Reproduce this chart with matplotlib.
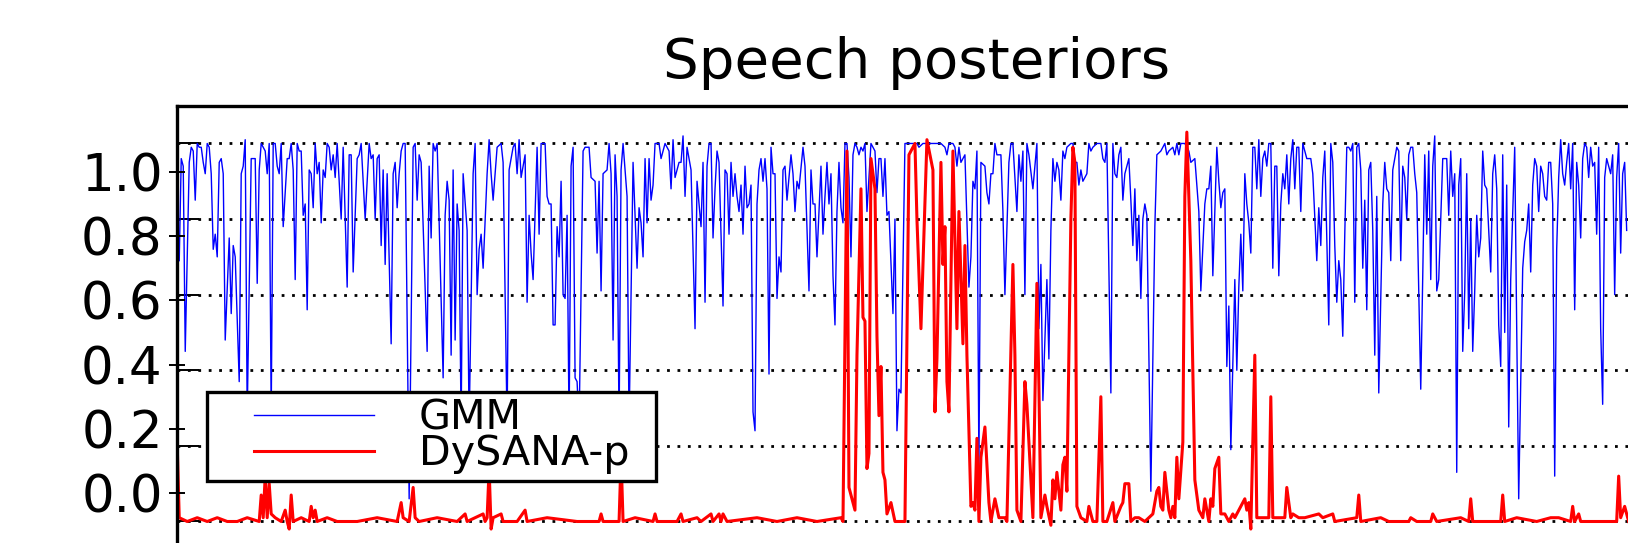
import matplotlib
matplotlib.use('Agg')
import matplotlib.pyplot as plt
from matplotlib.lines import Line2D
from matplotlib.legend_handler import HandlerLine2D
import numpy as np

# Data (frame index, posterior)
gmm_frame = [
    1, 2, 3, 4, 6, 7, 8, 9, 10, 11, 12, 13, 14, 15, 16, 17, 18, 19, 20, 21, 22, 23, 24, 26, 27, 28, 29, 31, 32, 33,
    34, 35, 37, 39, 40, 41, 42, 44, 45, 46, 47, 48, 49, 50, 51, 52, 53, 55, 56, 57, 58, 59, 60, 61, 62, 63, 64, 65,
    66, 67, 68, 69, 70, 71, 72, 73, 74, 75, 76, 77, 78, 79, 80, 82, 83, 85, 86, 87, 88, 90, 91, 92, 94, 96, 97, 98,
    99, 100, 101, 102, 103, 104, 105, 107, 108, 109, 110, 111, 112, 113, 114, 116, 118, 119, 120,
    121, 122, 125, 126, 127, 128, 129, 130, 133, 134, 135, 136, 137, 138, 139, 140, 141, 142, 143, 145, 146, 148,
    149, 150, 151, 152, 153, 155, 156, 157, 158, 160, 162, 163, 165, 166, 168, 169, 170, 171, 172, 174, 175, 176,
    177, 178, 180, 181, 182, 184, 185, 186, 187, 188, 189, 190, 191, 192, 193, 194, 195, 196, 197, 198, 199, 200,
    201, 203, 204, 206, 207, 209, 210, 211, 212, 213, 215, 216, 217, 218, 219, 220, 221, 222, 223, 225, 226, 228,
    230, 231, 232, 233, 234, 235, 236, 237, 238, 239, 241,
    242, 244, 246, 247, 248, 249, 251, 252, 253, 254, 255, 256, 257, 259, 260, 262, 263, 264, 265, 266, 267, 268,
    269, 270, 271, 273, 274, 275, 276, 277, 278, 279, 280, 281, 282, 283, 284, 285, 286, 287, 288, 289, 290, 291,
    292, 293, 294, 295, 296, 297, 298, 299, 300, 301, 302, 303, 304, 305, 307, 308, 309, 310, 311, 313, 314, 316,
    317, 318, 319, 320, 321, 322, 323, 324, 325, 326, 327, 328, 329, 330, 331, 332, 333, 334, 335, 336, 337, 338,
    339, 340, 341, 342, 343, 344, 345, 347, 348, 349, 350, 351, 352, 353, 354, 355, 356, 358, 359, 360, 361, 362,
    364, 365, 367, 370, 371, 373, 376, 380, 382, 384, 385, 386, 388, 389, 390, 391, 392, 393, 394, 396, 397, 398,
    399, 400, 401, 402, 404, 405, 406, 407, 408, 409, 410, 412, 413, 414, 416, 417, 418, 420, 421, 422, 423, 424,
    425, 426, 428, 429, 430, 431, 432, 433, 435, 436, 437, 438, 439, 440, 441, 442, 443, 444, 445, 447, 448, 449,
    450, 451, 452, 453, 455, 456, 457, 458, 460, 462, 463, 464, 465, 467, 468, 469, 470, 471, 472, 473, 474, 476,
    477, 478, 479, 480, 481, 482, 483,
    484, 485, 487, 489, 490, 492, 494, 495, 496, 498, 499, 500, 501, 502, 504, 506, 507, 509, 511, 512, 514, 515,
    516, 517, 518, 520, 521, 522, 523, 524, 525, 526, 527, 529, 530, 531, 532, 533, 534, 535, 536, 537, 538, 539,
    540, 541, 542, 543, 544, 545, 546, 547, 548, 549, 550, 551, 552, 553, 554, 555, 556, 557, 558, 559, 560, 561,
    562, 563, 565, 566, 567, 568, 570, 571, 572, 573, 574, 576, 577, 578, 579, 580, 581, 582, 583, 584, 585, 586,
    587, 588, 589, 590, 591, 592, 593, 594, 595, 596, 597, 598, 599, 600, 601, 603, 604,
    605, 606, 607, 608, 610, 611, 612, 613, 614, 615, 616, 617, 618, 619, 620, 622, 623, 624, 625, 626, 627, 628,
    629, 630, 631, 632, 633, 635, 636, 637, 638, 639, 640, 641, 642, 643, 644, 645, 646, 647, 648, 649, 650, 651,
    652, 653, 654, 655, 657, 658, 659, 660, 661, 662, 663, 664, 665, 666, 667, 669, 670, 671, 673, 674, 675, 676,
    677, 678, 679, 680, 681, 682, 683, 684, 685, 686, 687, 688, 689, 690, 691, 692, 693, 694, 695, 696, 697, 698,
    699, 700, 701, 702, 703, 704, 705, 706, 707, 708, 709, 710, 711, 712, 713, 714, 715, 716, 717, 718, 719, 720,
    721, 722, 723, 724, 725]
gmm_post = [
    0.69, 0.96, 0.94, 0.45, 0.95, 0.99, 0.98, 0.85, 1.00, 0.99, 0.99, 0.95, 0.92, 1.00, 0.99, 0.92, 0.72, 0.76, 0.70,
    0.95, 0.96, 0.92, 0.48, 0.75, 0.55, 0.73, 0.70, 0.37, 0.92, 0.94, 1.01, 0.28, 0.96, 0.96, 0.63, 0.93, 1.00, 0.98,
    0.92, 1.00, 0.28, 1.00, 1.00, 0.94, 0.92, 1.00, 0.78, 0.96, 0.96, 1.00, 0.93, 0.64, 1.00, 0.98, 0.98, 0.81, 0.84,
    0.56, 0.93, 0.92, 0.83, 1.00, 0.92, 0.95, 0.79, 0.93, 0.91, 1.00, 0.99, 0.93, 0.97, 0.91, 1.00, 0.80, 0.99, 0.62,
    0.97, 0.97, 0.66, 0.96, 0.97, 1.00, 0.80, 1.00, 0.96, 0.97, 0.80, 0.96, 0.97, 0.73, 0.93, 0.68, 0.92, 0.47, 0.92,
    0.95, 0.83, 0.92, 0.98, 1.00, 1.00, 0.06, 0.99, 1.00, 0.85,
    0.97, 0.95, 0.45, 0.94, 0.75, 1.00, 0.98, 1.00, 0.38, 0.81, 0.90, 0.85, 0.44, 0.93, 0.48, 0.84, 0.77, 0.25, 0.92,
    0.77, 0.25, 0.92, 1.00, 0.60, 0.72, 0.76, 0.67, 0.92, 1.01, 0.92, 0.85, 0.99, 1.00, 0.95, 0.25, 0.93, 0.99, 1.00,
    0.92, 1.01, 0.91, 0.97, 0.58, 0.81, 0.71, 0.64, 0.99, 0.76, 1.00, 1.00, 0.86, 0.84, 0.84, 0.52, 0.52, 0.78, 0.70,
    0.90, 0.60, 0.59, 0.81, 0.25, 0.94, 0.99, 0.38, 0.37, 0.25, 0.98, 0.99, 0.99, 0.91, 0.90, 0.71, 0.90, 0.61, 0.92,
    0.93, 1.00, 0.92, 0.48, 0.97, 0.86, 0.25, 0.93, 1.00, 0.86, 0.25, 0.95, 0.67, 0.83, 0.79, 0.70, 0.96, 0.79, 0.96,
    0.85, 0.89, 1.00, 1.00,
    0.96, 1.00, 0.98, 0.88, 1.01, 0.91, 0.95, 0.95, 1.02, 0.86, 0.99, 0.96, 0.93, 0.51, 0.90, 0.78, 0.95, 0.58, 0.94,
    1.00, 1.00, 0.75, 0.88, 0.98, 0.95, 0.57, 0.93, 0.92, 0.76, 0.95, 0.86, 0.92, 0.86, 0.82, 0.89, 0.76, 0.94, 0.83,
    0.84, 0.89, 0.29, 0.24, 0.84, 0.93, 0.96, 0.90, 0.96, 0.88, 0.39, 0.99, 0.92, 0.92, 0.59, 0.70, 0.66, 0.93, 0.94,
    0.85, 0.97, 0.92, 0.82, 0.90, 0.88, 0.99, 0.94, 0.61, 0.93, 0.84, 0.84, 0.70, 0.82, 0.94, 0.76, 0.86, 0.95, 0.84,
    0.92, 0.65, 0.52, 0.82, 0.95, 0.83, 0.79, 1.00, 1.00, 0.91, 0.70, 0.97, 1.00, 0.99, 0.97, 0.99, 0.98, 1.00, 0.82,
    1.00, 0.99, 0.98, 0.87, 0.96, 0.96, 0.86, 0.96, 0.81, 0.82, 0.55, 0.80, 0.24, 0.35, 0.34,
    1.00, 1.00, 1.00, 1.00, 0.99, 1.00, 1.00, 1.00, 1.00, 0.99, 0.97, 1.00, 1.00, 0.99, 0.94, 0.99, 0.95, 0.96, 0.97,
    0.62, 0.70, 0.90, 0.88, 0.98, 0.14, 0.95, 0.94, 0.87, 0.84, 0.92, 0.92, 1.00, 0.97, 0.97, 0.82, 0.60, 0.95, 1.00,
    1.00, 0.82, 0.97, 0.90, 0.98, 0.60, 1.00, 0.97, 0.88, 0.94, 1.00, 0.51, 0.68, 0.32, 0.64, 0.43, 0.77, 0.96, 0.90,
    0.95, 0.93, 0.85, 0.98, 0.96, 0.99, 1.00, 1.00, 0.95, 0.95, 0.89, 0.93, 0.90, 0.92, 1.00, 0.98, 0.99, 1.00, 1.00,
    0.96, 0.95, 1.00, 0.34, 1.00, 0.92, 0.91, 0.97, 0.99, 0.85, 0.92, 0.96, 0.85, 0.73, 0.88, 0.69, 0.81, 0.59, 0.80,
    0.84, 0.81, 0.08, 0.78, 0.97, 0.98, 1.00, 0.97, 0.98, 0.99, 0.97, 1.00, 0.97, 1.00, 1.00, 0.98, 0.95, 0.96, 0.82,
    0.61, 0.84, 0.88, 0.88, 0.94, 0.65, 0.99, 0.90, 0.83, 0.87, 0.88, 0.41, 0.57, 0.19, 0.64, 0.40, 0.62, 0.76, 0.61,
    0.92, 0.84, 0.79, 0.71, 0.99, 0.99, 0.88, 1.01, 0.86, 0.96, 0.98, 0.94, 1.00, 1.00, 0.67, 0.94, 0.94, 0.65, 0.84,
    0.92, 0.88, 0.97, 0.84, 0.96, 1.01, 0.88, 0.99, 0.99, 0.82, 1.00, 0.96, 0.96, 0.96, 0.92, 0.69, 0.83, 0.73, 0.91,
    0.98, 0.52, 1.00, 0.95, 0.73, 0.58, 0.69, 0.64, 0.49, 0.76, 0.99, 0.99, 0.98, 1.00, 0.58, 0.99, 1.00, 0.93, 0.67,
    0.85, 0.56, 0.93, 0.95, 0.77, 0.44, 0.86, 0.34, 0.84, 0.95,
    0.88, 0.87, 0.69, 0.93, 0.99, 0.98, 0.69, 0.94, 0.91, 0.80, 0.97, 0.99, 0.99, 0.92, 0.87, 0.35, 0.65, 0.97, 0.76,
    0.98, 0.64, 0.94, 1.02, 0.61, 0.64, 0.80, 0.96, 0.96, 0.81, 0.98, 0.86, 0.92, 0.13, 0.89, 0.96, 0.45, 0.61, 0.92,
    0.51, 0.80, 0.45, 0.61, 0.81, 0.70, 0.75, 0.98, 0.89, 0.88, 0.66, 0.92, 0.97, 0.88, 0.52, 0.41, 0.97, 0.50, 0.89,
    0.25, 0.64, 0.99, 0.51, 0.06, 0.67, 0.74, 0.77, 0.84, 0.66, 0.89, 0.96, 0.94, 0.82, 0.94, 0.92, 0.86, 0.85, 0.95,
    0.95, 0.84, 0.12, 0.72, 0.91, 1.01, 0.92, 0.89, 0.95, 1.00, 0.88, 1.00, 0.56, 0.95, 0.89, 0.75, 0.96, 1.00, 0.99,
    0.91, 0.99, 0.94, 0.95, 0.76, 0.99, 0.51, 0.31, 0.91, 0.96, 0.94, 0.92, 0.97, 0.60, 0.91, 1.00, 0.71, 0.92, 0.95,
    0.77]

dysana_frame = [
    0, 1, 5, 10, 15, 20, 25, 30, 35, 41, 42, 43, 44, 45, 46, 47, 49, 52, 54, 55, 56, 57, 58, 62, 66, 67, 68, 69, 70,
    75, 80, 90, 100, 110, 112, 113, 116, 118, 119, 121, 130, 140, 144, 145, 153, 154, 155, 156, 157, 158, 162, 163,
    170, 174, 175, 185, 200, 211, 212, 213, 221, 222, 223, 229, 238, 239, 240, 250, 252, 253, 260, 262, 267, 268,
    271, 272, 273, 275, 290, 300, 310, 320, 332, 333,
    335, 336, 338, 339, 340, 342, 343, 344, 345, 346, 347, 349, 350, 351, 352, 353, 354, 355, 357, 359, 364, 366,
    369, 370, 372, 375, 378, 379, 380, 382, 383, 384, 385, 386, 388, 390, 391, 393, 394, 395, 397, 398, 399, 400,
    401, 402, 404, 406, 407, 409, 411, 414, 415, 418, 419, 420, 422, 424, 425, 427, 428, 430, 431, 432, 434, 435,
    437, 438, 439, 440, 442, 443, 444, 445, 447, 448, 449, 450, 452, 455, 456, 458, 460, 462, 463, 465, 468, 469,
    472, 473, 474, 476, 477, 479, 481, 484, 488, 490, 491, 492, 493, 494, 496, 497, 498, 499, 500, 501, 503, 504,
    505, 507, 509, 511, 513, 514, 516, 517, 518, 519, 521, 522, 524, 526, 528, 529, 531, 532, 534, 535, 536, 537,
    539, 540, 542, 546, 547, 548, 551, 553, 554, 555, 557, 558, 561, 564, 571, 573, 578, 579, 590, 591, 592, 602,
    606, 616, 617, 620, 627, 628, 630, 642, 646, 647, 648, 662, 663, 664, 670, 680, 687, 691, 697, 698, 699, 701,
    702, 710, 720, 721, 722, 724, 726]
dysana_post = [
    0.20, 0.01, 0.00, 0.01, 0.00, 0.01, 0.00, 0.00, 0.01, 0.00, 0.07, 0.01, 0.12, 0.01, 0.10, 0.02, 0.01, 0.00, 0.03,
    0.00, -0.02, 0.07, 0.00, 0.01, 0.00, 0.04, 0.01, 0.03, 0.00, 0.01, 0.00, 0.00, 0.01, 0.00, 0.05, 0.01, 0.00, 0.09,
    0.01, 0.00, 0.01, 0.00, 0.02, 0.00, 0.02, 0.00, 0.01, 0.14, -0.02, 0.01, 0.02, 0.00, 0.00, 0.03, 0.00, 0.01, 0.00,
    0.00, 0.02, 0.00, 0.00, 0.17, 0.00, 0.01, 0.00, 0.02, 0.00, 0.00, 0.02, 0.00, 0.01, 0.00, 0.02, 0.00, 0.02, 0.00,
    0.02, 0.00, 0.01, 0.00, 0.01, 0.00, 0.01, 0.00,
    0.98, 0.09, 0.05, 0.03, 0.44, 0.88, 0.54, 0.53, 0.14, 0.18, 0.96, 0.88, 0.49, 0.28, 0.41, 0.13, 0.11, 0.02, 0.05,
    0.00, 0.00, 0.97, 1.00, 0.80, 0.51, 1.01, 0.93, 0.29, 0.43, 0.95, 0.68, 0.78, 0.37, 0.29, 0.98, 0.51, 0.82, 0.47,
    0.73, 0.44, 0.04, 0.05, 0.03, 0.22, 0.00, 0.17, 0.25, 0.05, 0.00, 0.06, 0.01, 0.01, 0.00, 0.68, 0.44, 0.03, 0.00,
    0.37, 0.31, 0.11, 0.01, 0.63, 0.36, 0.01, 0.07, 0.04, -0.01, 0.11, 0.06, 0.13, 0.03, 0.15, 0.17, 0.08, 0.80, 0.99,
    0.95, 0.04, 0.01, 0.00, 0.04, 0.00, 0.00, 0.33, 0.00, 0.00, 0.05, 0.00, 0.04, 0.05, 0.10, 0.10, 0.00, 0.01, 0.01,
    0.00, 0.02, 0.08, 0.09, 0.04, 0.03, 0.13, 0.03, 0.01, 0.04, 0.01, 0.17, 0.06, 0.21, 0.86, 1.03, 0.69, 0.11, 0.03,
    0.01, 0.06, 0.00, 0.06, 0.04, 0.14, 0.17, 0.02, 0.02, 0.00, 0.02, 0.01, 0.03, 0.04, 0.06, 0.03, 0.05, -0.02, 0.44,
    0.01, 0.01, 0.01, 0.33, 0.01, 0.01, 0.01, 0.01, 0.09, 0.01, 0.02, 0.01, 0.01, 0.02, 0.01, 0.02, 0.00, 0.01, 0.07,
    0.00, 0.01, 0.00, 0.00, 0.01, 0.00, 0.00, 0.02, 0.00, 0.01, 0.00, 0.06, 0.00, 0.00, 0.07, 0.00, 0.01, 0.00, 0.01,
    0.01, 0.00, 0.04, 0.00, 0.02, 0.00, 0.00, 0.00, 0.12, 0.01, 0.04, 0.00]

yticks = [0.0, 0.2, 0.4, 0.6, 0.8, 1.0]

fig = plt.figure(figsize=(16.28, 5.43), dpi=100)

# main axes: lines, grid, inner ticks (canvas crops right and bottom)
ax = fig.add_axes([0.1085, -0.0300, 0.9091, 0.8354])
gmm_line, = ax.plot(gmm_frame, gmm_post, color='#0000ff', linewidth=1.0, label='GMM')
dys_line, = ax.plot(dysana_frame, dysana_post, color='#ff0000', linewidth=2.2, label='DySANA-p')
ax.set_xlim(-0.3, 740)
ax.set_ylim(-0.1, 1.1)
ax.set_xticks([])
ax.set_yticks(yticks)
ax.tick_params(axis='y', direction='in', length=15.8, width=1.4, labelleft=False, right=True, color='k')
ax.grid(axis='y', color='k', linestyle=(0, (1, 2.75)), linewidth=2)
ax.set_axisbelow(True)
for sp in ax.spines.values():
    sp.set_linewidth(2.4)
ax.set_title('Speech posteriors', fontsize=40.5, pad=20)

# tick labels sit on their own (offset) scale, as in the original
ax2 = fig.add_axes([0.1085, -0.0300, 0.9091, 0.8354], frameon=False)
ax2.patch.set_visible(False)
ax2.set_ylim(-0.207, 1.207)
ax2.set_xticks([])
ax2.set_yticks(yticks)
ax2.set_yticklabels(['%.1f' % t for t in yticks])
ax2.tick_params(axis='y', direction='inout', length=12, width=1.4, labelsize=37, pad=4)

leg = ax.legend(loc='upper left', bbox_to_anchor=(207 / 1628, 1 - 397 / 543, 449 / 1628, 0.01),
                bbox_transform=fig.transFigure, mode='expand', borderaxespad=0,
                fontsize=29.7, fancybox=False, framealpha=1, edgecolor='k',
                borderpad=0.15, labelspacing=-0.09, handlelength=3.89, handletextpad=1.1,
                title=' ', title_fontsize=2,
                handler_map={Line2D: HandlerLine2D(xpad=0.98)})
leg.get_frame().set_linewidth(2.4)
leg.set_zorder(10)

plt.savefig('out.png', dpi=100)
plt.close()
